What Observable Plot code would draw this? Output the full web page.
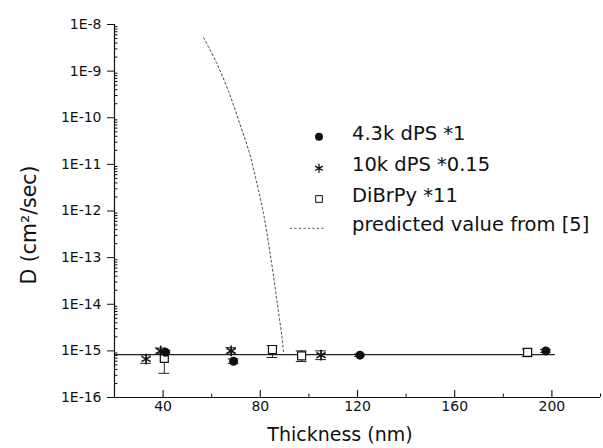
<!DOCTYPE html>
<html><head><meta charset="utf-8">
<script src="https://cdn.jsdelivr.net/npm/d3@7"></script>
<script src="https://cdn.jsdelivr.net/npm/@observablehq/plot@0.6"></script>
<style>
html,body{margin:0;padding:0;background:#fff;}
#chart{position:relative;width:603px;height:448px;}
</style></head><body><div id="chart"></div>
<script>
// ---- data ----
const seriesNames = ["4.3k dPS *1", "10k dPS *0.15", "DiBrPy *11", "predicted value from [5]"];

const dps43X  = [41, 69, 121, 197.5];
const dps43D  = [9.3e-16, 6.0e-16, 8.1e-16, 1.0e-15];
const dps43Lo = [8.5e-16, 5.4e-16, 7.6e-16, 9.3e-16];
const dps43Hi = [1.02e-15, 6.7e-16, 8.6e-16, 1.08e-15];

const dps10X  = [33, 39, 68, 105];
const dps10D  = [6.7e-16, 1.0e-15, 1.0e-15, 8.1e-16];
const dps10Lo = [5.4e-16, 8.6e-16, 8.5e-16, 6.5e-16];
const dps10Hi = [8.2e-16, 1.15e-15, 1.17e-15, 1.0e-15];

const dibrX  = [40.5, 85, 97, 190];
const dibrD  = [6.9e-16, 1.07e-15, 7.8e-16, 9.3e-16];
const dibrLo = [3.3e-16, 7.2e-16, 5.9e-16, 7.5e-16];
const dibrHi = [9.0e-16, 1.3e-15, 1.0e-15, 1.1e-15];

const fitX = [20, 201];
const fitD = [8.3e-16, 8.3e-16];

const predX = [56.7, 62.0, 67.0, 71.5, 75.6, 78.6, 81.3, 83.4, 85.3, 87.3, 88.9, 89.6];
const predD = [5.2e-9, 1.5e-9, 3.6e-10, 7.6e-11, 1.7e-11, 3.9e-12, 8.9e-13, 2.0e-13, 4.5e-14, 7.9e-15, 2.0e-15, 8.9e-16];

const xMajorTicks = [40, 80, 120, 160, 200];
const xMinorTicks = [20, 60, 100, 140, 180, 220];
const yMajorTicks = [1e-16, 1e-15, 1e-14, 1e-13, 1e-12, 1e-11, 1e-10, 1e-9, 1e-8];
const yMinorTicks = [];
for (let e = -16; e < -8; e++) for (let k = 2; k <= 9; k++) yMinorTicks.push(k * Math.pow(10, e));

const xLabel = "Thickness (nm)";
const yLabel = "D (cm²/sec)";

// ---- tables ----
const mk = (xs, ds, los, his) => xs.map((x, i) => ({x, d: ds[i], lo: los[i], hi: his[i]}));
const dps43 = mk(dps43X, dps43D, dps43Lo, dps43Hi);
const dps10 = mk(dps10X, dps10D, dps10Lo, dps10Hi);
const dibr = mk(dibrX, dibrD, dibrLo, dibrHi);
const allPts = [...dps43, ...dps10, ...dibr];
const fit = fitX.map((x, i) => ({x, d: fitD[i]}));
const pred = predX.map((x, i) => ({x, d: predD[i]}));

const fmtY = d => "1E" + Math.round(Math.log10(d));

const W = 603, H = 448, mT = 24, mB = 51, mL = 114, mR = 3;
const frameH = H - mT - mB, frameW = W - mL - mR;

const plot = Plot.plot({
  width: W, height: H,
  marginTop: mT, marginBottom: mB, marginLeft: mL, marginRight: mR,
  style: {fontFamily: "DejaVu Sans", fontSize: "14px", color: "#111", background: "#fff"},
  x: {domain: [20, 220]},
  y: {type: "log", domain: [1e-16, 1e-8]},
  marks: [
    Plot.axisX({ticks: xMajorTicks, tickSize: 0, tickPadding: 4, label: null, tickFormat: d => d, fontSize: 14, fill: "#111"}),
    Plot.tickX(xMajorTicks, {x: d => d, insetTop: frameH - 7, stroke: "#111", strokeWidth: 1.1}),
    Plot.tickX(xMinorTicks, {x: d => d, insetTop: frameH - 3.5, stroke: "#111", strokeWidth: 1}),
    Plot.axisY({ticks: yMajorTicks, tickSize: 7, tickPadding: 6, tickFormat: fmtY, label: null, fontSize: 14, fill: "#111"}),
    Plot.tickY(yMinorTicks, {y: d => d, insetRight: frameW - 3.5, stroke: "#111", strokeWidth: 1}),
    Plot.ruleX([20], {stroke: "#111", strokeWidth: 1.2}),
    Plot.ruleY([1e-16], {stroke: "#111", strokeWidth: 1.2}),
    Plot.line(fit, {x: "x", y: "d", stroke: "#222", strokeWidth: 1.3}),
    Plot.line(pred, {x: "x", y: "d", stroke: "#444", strokeWidth: 1, strokeDasharray: "2,2.5", curve: "catmull-rom"}),
    Plot.ruleX(allPts, {x: "x", y1: "lo", y2: "hi", stroke: "#222", strokeWidth: 1}),
    Plot.ruleY(allPts, {y: "lo", x1: d => d.x - 2.2, x2: d => d.x + 2.2, stroke: "#222", strokeWidth: 1}),
    Plot.ruleY(allPts, {y: "hi", x1: d => d.x - 2.2, x2: d => d.x + 2.2, stroke: "#222", strokeWidth: 1}),
    Plot.dot(dibr, {x: "x", y: "d", symbol: "square", r: 4.5, fill: "white", stroke: "#111", strokeWidth: 1.2}),
    Plot.dot(dps10, {x: "x", y: "d", symbol: "asterisk", r: 5, stroke: "#111", strokeWidth: 1.5}),
    Plot.dot(dps43, {x: "x", y: "d", symbol: "circle", r: 4.5, fill: "#111", stroke: "none"})
  ]
});
document.getElementById("chart").appendChild(plot);

// ---- axis titles & legend ----
const svg = d3.select(plot);
svg.append("text").attr("x", 340).attr("y", 441).attr("text-anchor", "middle")
  .attr("font-family", "DejaVu Sans").attr("font-size", 19).attr("fill", "#111").text(xLabel);
svg.append("text").attr("transform", "translate(36,225) rotate(-90)").attr("text-anchor", "middle")
  .attr("font-family", "DejaVu Sans").attr("font-size", 20.5).attr("fill", "#111").text(yLabel);

const lg = svg.append("g").attr("font-family", "DejaVu Sans").attr("font-size", 19.5).attr("fill", "#111").attr("text-anchor", "start");
const rowsY = [140, 170.7, 201.7, 231];
const symY = [136.7, 168.3, 199, 228.3];
lg.append("path").attr("transform", `translate(319,${symY[0]})`).attr("d", d3.symbol(d3.symbolCircle, 50)()).attr("fill", "#111");
lg.append("path").attr("transform", `translate(319,${symY[1]})`).attr("d", d3.symbol(d3.symbolAsterisk, 55)()).attr("fill", "none").attr("stroke", "#111").attr("stroke-width", 1.3);
lg.append("path").attr("transform", `translate(319,${symY[2]})`).attr("d", d3.symbol(d3.symbolSquare, 45)()).attr("fill", "white").attr("stroke", "#111").attr("stroke-width", 1);
lg.append("line").attr("x1", 290).attr("x2", 324).attr("y1", symY[3]).attr("y2", symY[3]).attr("stroke", "#444").attr("stroke-dasharray", "2,2.5");
seriesNames.forEach((s, i) => lg.append("text").attr("x", 352).attr("y", rowsY[i]).text(s));
</script>
</body></html>
